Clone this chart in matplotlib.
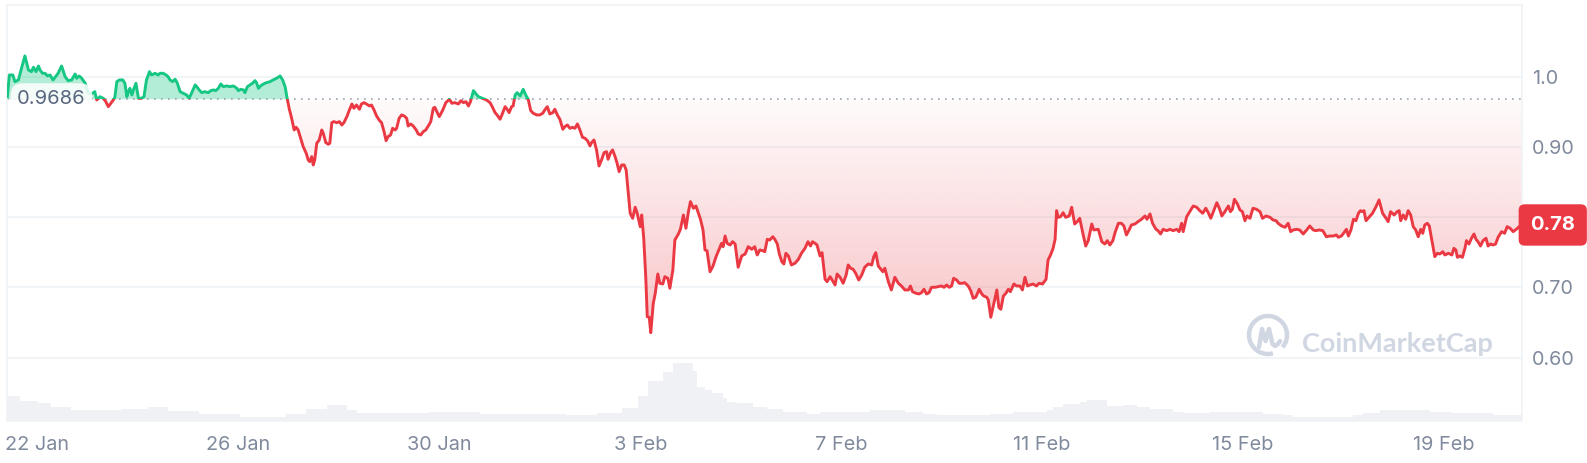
import numpy as np
import matplotlib
matplotlib.use("Agg")
import matplotlib.pyplot as plt
from matplotlib.patches import Rectangle, Arc
from matplotlib.colors import to_rgb

plt.rcParams["font.family"] = ["Inter", "DejaVu Sans"]

GREEN = "#16c784"
RED = "#ea3943"
GRID = "#eff2f5"
LABEL = "#808a9d"

BASE = 0.9686
LAST_LABEL = "0.78"

# (days since 22 Jan 00:00, price)
price_points = [
    (-0.60, 0.9715), (-0.56, 1.0024), (-0.49, 1.0024), (-0.45, 0.9929), (-0.38, 0.9953),
    (-0.31, 1.0142), (-0.25, 1.0295), (-0.18, 1.0095), (-0.12, 1.0071), (-0.08, 1.0134),
    (-0.03, 1.0071), (0.02, 1.0152), (0.05, 1.0095), (0.10, 1.0048), (0.15, 1.0048),
    (0.20, 1.0010), (0.25, 1.0024), (0.31, 0.9953), (0.41, 1.0048), (0.48, 1.0152),
    (0.55, 1.0000), (0.61, 0.9943), (0.68, 0.9953), (0.75, 1.0038), (0.78, 0.9977),
    (0.83, 1.0010), (0.88, 0.9977), (0.95, 0.9906), (1.01, 0.9764), (1.10, 0.9764),
    (1.14, 0.9787), (1.18, 0.9668), (1.24, 0.9715), (1.31, 0.9692), (1.36, 0.9644),
    (1.41, 0.9573), (1.46, 0.9621), (1.51, 0.9668), (1.54, 0.9706), (1.58, 0.9929),
    (1.63, 0.9953), (1.70, 0.9953), (1.74, 0.9906), (1.78, 0.9715), (1.81, 0.9787),
    (1.84, 0.9834), (1.88, 0.9739), (1.91, 0.9811), (1.96, 0.9906), (2.01, 0.9692),
    (2.07, 0.9692), (2.12, 0.9715), (2.17, 0.9953), (2.23, 1.0071), (2.27, 1.0024),
    (2.34, 1.0048), (2.40, 1.0024), (2.44, 1.0048), (2.50, 1.0048), (2.56, 1.0024),
    (2.60, 1.0000), (2.64, 0.9953), (2.69, 0.9929), (2.74, 0.9963), (2.78, 0.9915),
    (2.84, 0.9787), (2.90, 0.9764), (2.97, 0.9739), (3.02, 0.9692), (3.07, 0.9772),
    (3.14, 0.9882), (3.17, 0.9858), (3.22, 0.9811), (3.27, 0.9772), (3.33, 0.9787),
    (3.40, 0.9772), (3.45, 0.9801), (3.50, 0.9811), (3.55, 0.9801), (3.60, 0.9834),
    (3.65, 0.9896),
    (3.70, 0.9858), (3.77, 0.9868), (3.83, 0.9858), (3.90, 0.9868), (3.97, 0.9834),
    (4.00, 0.9801), (4.05, 0.9820), (4.10, 0.9811), (4.13, 0.9772), (4.18, 0.9858),
    (4.23, 0.9882), (4.28, 0.9906), (4.33, 0.9943), (4.36, 0.9915), (4.40, 0.9834),
    (4.44, 0.9868), (4.50, 0.9896), (4.56, 0.9915), (4.63, 0.9929), (4.69, 0.9953),
    (4.76, 0.9977), (4.83, 1.0010), (4.88, 0.9953), (4.93, 0.9858), (4.97, 0.9692),
    (5.01, 0.9550), (5.06, 0.9408), (5.11, 0.9241), (5.15, 0.9279), (5.19, 0.9241),
    (5.24, 0.9123), (5.29, 0.9004), (5.35, 0.8910), (5.39, 0.8814), (5.42, 0.8790),
    (5.46, 0.8861), (5.49, 0.8743), (5.52, 0.8814), (5.56, 0.9052), (5.61, 0.9099),
    (5.66, 0.9241), (5.69, 0.9194), (5.74, 0.9061), (5.79, 0.9038), (5.82, 0.9052),
    (5.86, 0.9345), (5.90, 0.9360), (5.96, 0.9345), (6.01, 0.9360), (6.06, 0.9312),
    (6.10, 0.9345), (6.16, 0.9431), (6.21, 0.9526), (6.26, 0.9611), (6.30, 0.9550),
    (6.35, 0.9597), (6.41, 0.9536), (6.45, 0.9611), (6.50, 0.9630), (6.55, 0.9611),
    (6.61, 0.9583), (6.65, 0.9597), (6.70, 0.9526), (6.75, 0.9441), (6.80, 0.9384),
    (6.85, 0.9345), (6.90, 0.9217), (6.94, 0.9089), (6.98, 0.9146), (7.03, 0.9170),
    (7.07, 0.9265), (7.12, 0.9241), (7.15, 0.9265), (7.20, 0.9408), (7.25, 0.9455),
    (7.30, 0.9441), (7.35, 0.9408), (7.38, 0.9298), (7.43, 0.9327), (7.48, 0.9298),
    (7.54, 0.9241), (7.58, 0.9184), (7.63, 0.9170), (7.68, 0.9217), (7.73, 0.9241),
    (7.78, 0.9298), (7.83, 0.9360), (7.88, 0.9550), (7.91, 0.9564), (7.96, 0.9488),
    (8.00, 0.9431),
    (8.07, 0.9526), (8.13, 0.9630), (8.20, 0.9678), (8.25, 0.9621), (8.31, 0.9630),
    (8.38, 0.9611), (8.43, 0.9658), (8.48, 0.9630), (8.53, 0.9644), (8.58, 0.9583),
    (8.62, 0.9644), (8.68, 0.9801), (8.73, 0.9754), (8.78, 0.9715), (8.86, 0.9692),
    (8.94, 0.9668), (9.01, 0.9630), (9.06, 0.9564), (9.11, 0.9488), (9.15, 0.9455),
    (9.21, 0.9394), (9.26, 0.9479), (9.31, 0.9573), (9.35, 0.9536), (9.39, 0.9488),
    (9.44, 0.9573), (9.47, 0.9583), (9.51, 0.9739), (9.55, 0.9772), (9.61, 0.9725),
    (9.67, 0.9820), (9.73, 0.9725), (9.77, 0.9678), (9.82, 0.9516), (9.87, 0.9479),
    (9.94, 0.9455), (10.00, 0.9455), (10.06, 0.9479), (10.10, 0.9526), (10.15, 0.9573),
    (10.20, 0.9469), (10.26, 0.9488), (10.30, 0.9536), (10.35, 0.9455), (10.40, 0.9394),
    (10.46, 0.9251), (10.50, 0.9288), (10.55, 0.9312), (10.60, 0.9265), (10.65, 0.9279),
    (10.70, 0.9265), (10.75, 0.9327), (10.80, 0.9241), (10.85, 0.9137), (10.90, 0.9123),
    (10.95, 0.9089), (11.00, 0.9014), (11.03, 0.9061), (11.08, 0.9099), (11.13, 0.8957),
    (11.18, 0.8729), (11.23, 0.8814), (11.28, 0.8918), (11.33, 0.8932), (11.36, 0.8824),
    (11.41, 0.8918), (11.45, 0.8957), (11.50, 0.8861), (11.54, 0.8767), (11.58, 0.8648),
    (11.63, 0.8743), (11.68, 0.8743), (11.72, 0.8672), (11.76, 0.8363), (11.80, 0.8056),
    (11.85, 0.7984), (11.90, 0.8141), (11.94, 0.8056), (12.00, 0.7865), (12.03, 0.8031),
    (12.07, 0.7700), (12.11, 0.7153), (12.14, 0.6584), (12.18, 0.6575), (12.21, 0.6356),
    (12.26, 0.6774), (12.30, 0.6917), (12.35, 0.7191), (12.39, 0.7059), (12.45, 0.7049),
    (12.49, 0.7153), (12.55, 0.7130), (12.59, 0.6988),
    (12.65, 0.7248), (12.69, 0.7675), (12.76, 0.7761), (12.80, 0.7827), (12.86, 0.8031),
    (12.91, 0.7842), (12.96, 0.8078), (13.00, 0.8221), (13.06, 0.8127), (13.11, 0.8159),
    (13.16, 0.8056), (13.20, 0.7970), (13.25, 0.7818), (13.29, 0.7533), (13.33, 0.7523),
    (13.39, 0.7224), (13.45, 0.7305), (13.51, 0.7438), (13.57, 0.7543), (13.62, 0.7628),
    (13.65, 0.7580), (13.69, 0.7732), (13.73, 0.7628), (13.79, 0.7604), (13.84, 0.7651),
    (13.89, 0.7618), (13.95, 0.7287), (14.02, 0.7448), (14.09, 0.7476), (14.15, 0.7580),
    (14.22, 0.7543), (14.28, 0.7580), (14.33, 0.7462), (14.38, 0.7533), (14.44, 0.7523),
    (14.48, 0.7509), (14.53, 0.7685), (14.58, 0.7675), (14.64, 0.7722), (14.68, 0.7685),
    (14.73, 0.7618), (14.77, 0.7476), (14.82, 0.7366), (14.86, 0.7334), (14.90, 0.7486),
    (14.95, 0.7448), (15.01, 0.7320), (15.08, 0.7344), (15.15, 0.7401), (15.21, 0.7486),
    (15.28, 0.7557), (15.34, 0.7651), (15.39, 0.7590), (15.43, 0.7651), (15.48, 0.7628),
    (15.52, 0.7604), (15.58, 0.7448), (15.62, 0.7495), (15.68, 0.7116), (15.72, 0.7082),
    (15.78, 0.7153), (15.83, 0.7096), (15.88, 0.7035), (15.92, 0.7191), (15.98, 0.7144),
    (16.04, 0.7059), (16.10, 0.7177), (16.14, 0.7320), (16.19, 0.7273), (16.24, 0.7258),
    (16.29, 0.7201), (16.35, 0.7106), (16.41, 0.7177), (16.47, 0.7287), (16.54, 0.7334),
    (16.61, 0.7320), (16.65, 0.7438), (16.69, 0.7495), (16.74, 0.7305),
    (16.83, 0.7224), (16.87, 0.7273), (16.94, 0.7082), (17.00, 0.6964), (17.07, 0.7144),
    (17.14, 0.7059), (17.20, 0.7021), (17.27, 0.6964), (17.34, 0.6964), (17.38, 0.7021),
    (17.42, 0.6940), (17.49, 0.6917), (17.55, 0.6907), (17.60, 0.6925), (17.65, 0.6974),
    (17.70, 0.6907), (17.75, 0.6925), (17.80, 0.7002), (17.87, 0.7002), (17.93, 0.7011),
    (18.00, 0.7021), (18.05, 0.7002), (18.10, 0.7035), (18.15, 0.7002), (18.20, 0.7021),
    (18.24, 0.7130), (18.30, 0.7106), (18.35, 0.7059), (18.42, 0.7059), (18.46, 0.7068),
    (18.53, 0.7021), (18.58, 0.6954), (18.63, 0.6846), (18.68, 0.6860), (18.75, 0.6974),
    (18.80, 0.6907), (18.84, 0.6878), (18.90, 0.6860), (18.93, 0.6822), (18.98, 0.6575),
    (19.03, 0.6736), (19.10, 0.6964), (19.14, 0.6717), (19.18, 0.6689), (19.23, 0.6878),
    (19.28, 0.6917), (19.33, 0.6974), (19.37, 0.6940), (19.44, 0.7049), (19.49, 0.7021),
    (19.56, 0.7021), (19.61, 0.6964), (19.66, 0.7144), (19.71, 0.7021), (19.76, 0.7035),
    (19.82, 0.7049), (19.89, 0.7021), (19.94, 0.7059), (20.01, 0.7049), (20.08, 0.7116),
    (20.12, 0.7391), (20.17, 0.7462), (20.22, 0.7557), (20.26, 0.7685), (20.29, 0.8093),
    (20.32, 0.7998), (20.37, 0.8007), (20.42, 0.8064), (20.47, 0.7998), (20.54, 0.8017),
    (20.59, 0.8141), (20.65, 0.7903), (20.70, 0.7936), (20.75, 0.7984), (20.82, 0.7747),
    (20.87, 0.7590), (20.92, 0.7666), (20.99, 0.7903), (21.03, 0.7818), (21.12, 0.7827),
    (21.19, 0.7651), (21.25, 0.7618), (21.30, 0.7666), (21.35, 0.7604), (21.41, 0.7666),
    (21.45, 0.7771), (21.52, 0.7913), (21.58, 0.7913), (21.63, 0.7875), (21.68, 0.7747),
    (21.74, 0.7827), (21.78, 0.7889), (21.85, 0.7903), (21.91, 0.7936), (21.98, 0.7970),
    (22.05, 0.8017), (22.09, 0.7970), (22.15, 0.8046), (22.20, 0.7913), (22.27, 0.7827),
    (22.31, 0.7808), (22.36, 0.7761), (22.41, 0.7827), (22.48, 0.7808), (22.55, 0.7827),
    (22.61, 0.7808), (22.68, 0.7827), (22.73, 0.7794), (22.78, 0.7913), (22.81, 0.7794),
    (22.88, 0.8007), (22.94, 0.8078), (23.01, 0.8159), (23.08, 0.8141), (23.14, 0.8093),
    (23.20, 0.8056), (23.26, 0.8127), (23.31, 0.8064), (23.36, 0.7984), (23.41, 0.8078),
    (23.48, 0.8206), (23.53, 0.8127), (23.58, 0.8017), (23.64, 0.8078), (23.71, 0.8159),
    (23.75, 0.8078), (23.79, 0.8112), (23.83, 0.8255), (23.89, 0.8188), (23.94, 0.8103),
    (23.99, 0.8078), (24.04, 0.7950), (24.08, 0.8017), (24.14, 0.7984), (24.20, 0.8127),
    (24.27, 0.8112), (24.34, 0.8078), (24.39, 0.7984), (24.46, 0.8017), (24.54, 0.7998),
    (24.60, 0.7960), (24.66, 0.7950), (24.70, 0.7913), (24.77, 0.7875), (24.84, 0.7856),
    (24.90, 0.7913), (24.95, 0.7794), (25.00, 0.7818), (25.07, 0.7827), (25.13, 0.7818),
    (25.20, 0.7761), (25.27, 0.7818), (25.33, 0.7875), (25.40, 0.7818), (25.45, 0.7808),
    (25.52, 0.7818), (25.59, 0.7808), (25.66, 0.7722), (25.73, 0.7732), (25.80, 0.7732),
    (25.86, 0.7747), (25.90, 0.7714), (25.96, 0.7732), (26.01, 0.7778), (26.06, 0.7827),
    (26.10, 0.7732), (26.15, 0.7818), (26.20, 0.7970), (26.25, 0.7950), (26.30, 0.8056),
    (26.34, 0.8093), (26.38, 0.8078), (26.41, 0.8093), (26.45, 0.7950), (26.51, 0.7998),
    (26.58, 0.8056), (26.65, 0.8150), (26.71, 0.8245), (26.78, 0.8056), (26.85, 0.7984),
    (26.89, 0.7936), (26.94, 0.8078), (27.01, 0.8031), (27.07, 0.8078), (27.11, 0.8093),
    (27.14, 0.7950), (27.19, 0.8031), (27.24, 0.7970), (27.29, 0.8093), (27.34, 0.8031),
    (27.39, 0.7865), (27.44, 0.7818), (27.49, 0.7722), (27.54, 0.7827), (27.58, 0.7771),
    (27.62, 0.7889), (27.67, 0.7913), (27.71, 0.7875), (27.76, 0.7675), (27.79, 0.7557),
    (27.82, 0.7438), (27.87, 0.7486), (27.92, 0.7476), (27.98, 0.7509), (28.02, 0.7462),
    (28.09, 0.7486), (28.16, 0.7462), (28.20, 0.7557), (28.24, 0.7533), (28.27, 0.7429),
    (28.32, 0.7448), (28.37, 0.7429), (28.42, 0.7557), (28.45, 0.7666), (28.50, 0.7618),
    (28.55, 0.7700), (28.60, 0.7761), (28.64, 0.7685), (28.68, 0.7651), (28.73, 0.7590),
    (28.78, 0.7666), (28.84, 0.7700), (28.88, 0.7590), (28.93, 0.7618), (28.98, 0.7604),
    (29.03, 0.7618), (29.08, 0.7714), (29.15, 0.7794), (29.21, 0.7771), (29.26, 0.7865),
    (29.32, 0.7842), (29.38, 0.7794), (29.44, 0.7827), (29.50, 0.7865), (29.55, 0.7889),
]

# volume (arbitrary units, M), step bins
vol_edges = [-0.613, -0.35, 0.01, 0.27, 0.67, 1.68, 2.20, 2.60, 3.22, 4.03, 4.53, 4.95,
             5.35, 5.76, 6.16, 6.36, 7.79, 8.81, 9.41, 10.52, 11.14, 11.64, 11.96, 12.16,
             12.45, 12.65, 13.05, 13.13, 13.29, 13.43, 13.65, 13.73, 13.93, 14.25, 14.52,
             14.84, 15.32, 15.58, 16.57, 16.91, 17.11, 17.27, 17.63, 17.91, 18.96, 19.42,
             20.10, 20.22, 20.42, 20.75, 20.89, 21.29, 21.61, 21.89, 22.15, 22.61, 22.81,
             23.34, 24.40, 24.80, 25.00, 26.20, 26.39, 26.73, 27.72, 28.18, 28.98, 29.55]
vol_m = [25, 20, 17.5, 13.5, 10.5, 12, 13.5, 10, 7, 3.5, 4, 7, 12, 15.5, 11, 8, 9, 6.5,
         7, 5.5, 8, 12.5, 25, 40, 49, 58, 50, 34, 30.5, 27.5, 22.5, 19, 18, 14, 12, 9, 7,
         9, 10.5, 11, 10.5, 9, 7, 5.5, 7, 9, 10.5, 14, 16.5, 19, 21, 14.5, 15.5, 14, 12,
         9, 8, 9, 7, 5.5, 3.5, 5.5, 8, 10.5, 9, 8, 5.5]

tick_days = [0, 4, 8, 12, 16, 20, 24, 28]
tick_labels = ["22 Jan", "26 Jan", "30 Jan", "3 Feb", "7 Feb", "11 Feb", "15 Feb", "19 Feb"]
price_ticks = [0.6, 0.7, 0.8, 0.9, 1.0]
# 0.80 sits under the last-price tag, so it is left blank
price_tick_labels = ["0.60", "0.70", "", "0.90", "1.0"]

XLIM = (-0.613, 29.55)
YLIM = (0.5106, 1.102)


def run():
    t = np.array([p[0] for p in price_points])
    y = np.array([p[1] for p in price_points])

    fig = plt.figure(figsize=(15.87, 4.63), dpi=100)
    fig.set_facecolor("white")
    rect = [6.7 / 1587, 42.5 / 463, 1515 / 1587, 415.5 / 463]

    axv = fig.add_axes(rect)
    axv.stairs(vol_m, vol_edges, fill=True, color="#eff1f4", lw=0)
    axv.set_xlim(*XLIM)
    axv.set_ylim(0, 415.5)
    axv.axis("off")

    ax = fig.add_axes(rect)
    ax.patch.set_visible(False)
    ax.set_xlim(*XLIM)
    ax.set_ylim(*YLIM)

    for s in ax.spines.values():
        s.set_color(GRID)
        s.set_linewidth(1.1)
    for v in price_ticks:
        ax.axhline(v, color=GRID, lw=1.1, zorder=0.5)

    # green fill above base
    ax.fill_between(t, np.maximum(y, BASE), BASE, color=GREEN, alpha=0.32, lw=0, zorder=1)

    # red gradient fill below base
    poly = ax.fill_between(t, np.minimum(y, BASE), BASE, color="none", lw=0)
    img = np.zeros((256, 1, 4))
    img[..., :3] = to_rgb(RED)
    img[:, 0, 3] = np.linspace(0.02, 0.30, 256)
    im = ax.imshow(img, extent=[XLIM[0], XLIM[1], y.min(), BASE], origin="upper",
                   aspect="auto", interpolation="bilinear", zorder=1)
    im.set_clip_path(poly.get_paths()[0], transform=ax.transData)

    ax.axhline(BASE, color="#9ca3b1", lw=1.2, ls=(0, (1, 3.2)), zorder=2)

    up = Rectangle((XLIM[0], BASE), XLIM[1] - XLIM[0], 1, transform=ax.transData)
    dn = Rectangle((XLIM[0], 0), XLIM[1] - XLIM[0], BASE, transform=ax.transData)
    lg, = ax.plot(t, y, color=GREEN, lw=2.1, solid_joinstyle="round", zorder=3)
    lg.set_clip_path(up)
    lr, = ax.plot(t, y, color=RED, lw=2.1, solid_joinstyle="round", zorder=3)
    lr.set_clip_path(dn)

    ax.set_xlim(*XLIM)
    ax.set_ylim(*YLIM)
    ax.set_xticks(tick_days)
    ax.set_xticklabels(tick_labels)
    ax.set_yticks(price_ticks)
    ax.set_yticklabels(price_tick_labels)
    ax.yaxis.tick_right()
    ax.tick_params(axis="both", length=0, labelsize=14.3, labelcolor=LABEL)
    ax.tick_params(axis="x", pad=11)
    ax.tick_params(axis="y", pad=7.4)

    # base price tag
    ax.annotate(f"{BASE}", xy=(0.0295, BASE), xycoords=("axes fraction", "data"),
                ha="center", va="center", fontsize=14.5, color="#58667e", zorder=6,
                bbox=dict(boxstyle="round,pad=0.32,rounding_size=0.6", fc="white",
                          ec="none", alpha=0.85))

    # last price tag
    ax.annotate(LAST_LABEL, xy=(1.0205, y[-1]), xycoords=("axes fraction", "data"),
                ha="center", va="center", fontsize=14.5, fontweight="bold", color="white",
                zorder=10, annotation_clip=False,
                bbox=dict(boxstyle="round,pad=0.58,rounding_size=0.3", fc=RED, ec="none"))

    # watermark
    wm = "#d0d6e2"
    tr = fig.dpi_scale_trans
    fig.patches.append(Arc((12.68, 1.28), 0.38, 0.38, theta1=-40, theta2=285,
                           lw=3.2, color=wm, transform=tr))
    fig.lines.append(plt.Line2D([12.59, 12.62, 12.655, 12.69, 12.725, 12.75, 12.78, 12.80],
                                [1.16, 1.34, 1.22, 1.34, 1.19, 1.17, 1.19, 1.22],
                                color=wm, lw=3.2, solid_capstyle="round",
                                solid_joinstyle="round", transform=tr))
    fig.text(13.02, 1.105, "CoinMarketCap", transform=tr, fontsize=19.5,
             fontweight="bold", color=wm, family=["Lato", "DejaVu Sans"])

    fig.savefig("out.png", dpi=100, facecolor="white")
    plt.close(fig)


if __name__ == "__main__":
    run()
